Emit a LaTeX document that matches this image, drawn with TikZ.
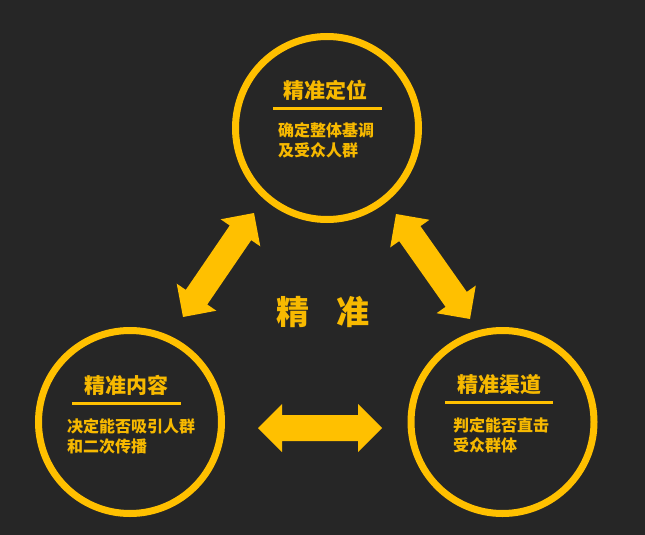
\documentclass[tikz,border=0pt]{standalone}
\usepackage{fontspec}
\newfontfamily\cjk{Noto Sans CJK SC}
\usetikzlibrary{calc}
\definecolor{bg}{HTML}{262626}
\definecolor{gold}{HTML}{FFC000}
\definecolor{goldtext}{HTML}{F7B900}
\newcommand\dblarrowshape[2]{%
  \fill[gold] (#1)
    -- ($(#1)!24pt!(#2)!24pt!90:(#2)$)
    -- ($(#1)!24pt!(#2)!13pt!90:(#2)$)
    -- ($(#2)!24pt!(#1)!13pt!-90:(#1)$)
    -- ($(#2)!24pt!(#1)!24pt!-90:(#1)$)
    -- (#2)
    -- ($(#2)!24pt!(#1)!24pt!90:(#1)$)
    -- ($(#2)!24pt!(#1)!13pt!90:(#1)$)
    -- ($(#1)!24pt!(#2)!13pt!-90:(#2)$)
    -- ($(#1)!24pt!(#2)!24pt!-90:(#2)$)
    -- cycle;}
\begin{document}
\begin{tikzpicture}[x=1pt,y=-1pt,
  ring/.style={circle,draw=gold,line width=7pt,minimum size=183pt,inner sep=0pt},
  titletext/.style={text=goldtext,font=\cjk\bfseries\fontsize{21}{24}\selectfont,inner sep=0pt},
  bodytext/.style={text=goldtext,font=\cjk\bfseries\fontsize{16}{20}\selectfont,align=left,inner sep=0pt,anchor=west},
  rule/.style={draw=gold,line width=3pt}]
\fill[bg] (0,0) rectangle (645,535);
\useasboundingbox (0,0) rectangle (645,535);

% circles
\node[ring] (top) at (327,128) {};
\node[ring] (left) at (130,422) {};
\node[ring] (right) at (502.5,422) {};

% top circle text
\node[titletext] (toptitle) at (325,90) {精准定位};
\coordinate (tr1) at (273,108); \coordinate (tr2) at (382,108);
\draw[rule] (tr1) -- (tr2);
\node[bodytext] (topbody) at (278,140) {确定整体基调\\及受众人群};

% left circle text
\node[titletext] (lefttitle) at (126.5,385) {精准内容};
\coordinate (lr1) at (72,403); \coordinate (lr2) at (181,403);
\draw[rule] (lr1) -- (lr2);
\node[bodytext] (leftbody) at (67,436.5) {决定能否吸引人群\\和二次传播};

% right circle text
\node[titletext] (righttitle) at (499.5,385) {精准渠道};
\coordinate (rr1) at (445,402); \coordinate (rr2) at (553,402);
\draw[rule] (rr1) -- (rr2);
\node[bodytext] (rightbody) at (453,435.5) {判定能否直击\\受众群体};

% centre label
\node[text=goldtext,font=\cjk\bfseries\fontsize{33}{36}\selectfont,inner sep=0pt] (centre) at (323,312) {精\hspace{28pt}准};

% arrows
\coordinate (h1) at (258,428); \coordinate (h2) at (382,428);
\coordinate (l1) at (183,317); \coordinate (l2) at (254,213);
\coordinate (r1) at (396,214); \coordinate (r2) at (470,319);
\dblarrowshape{h1}{h2}
\dblarrowshape{l1}{l2}
\dblarrowshape{r1}{r2}
\end{tikzpicture}
\end{document}
